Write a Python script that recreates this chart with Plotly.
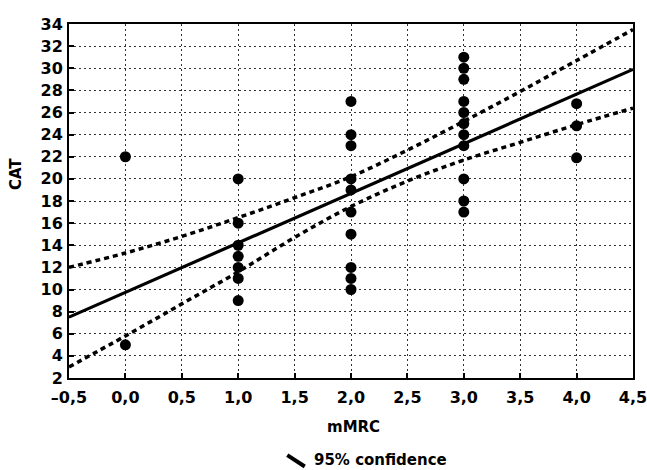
import plotly.graph_objects as go

# ---- data ----
x_groups = [0, 1, 2, 3, 4]
cat_by_group = [
    [22, 5],
    [20, 16, 14, 13, 12, 11, 9],
    [27, 24, 23, 20, 19, 17, 15, 12, 11, 10],
    [31, 30, 29, 27, 26, 25, 24, 23, 20, 18, 17],
    [26.8, 24.8, 21.9],
]
fit_x = [-0.5, 4.5]
fit_y = [7.5, 29.9]
ci_x = [-0.5, 0.0, 0.5, 1.0, 1.5, 2.0, 2.5, 3.0, 3.5, 4.0, 4.5]
ci_upper = [12.0, 13.3, 14.8, 16.5, 18.3, 20.2, 22.6, 25.2, 27.9, 30.7, 33.5]
ci_lower = [3.0, 5.8, 8.7, 11.6, 14.7, 17.5, 19.8, 21.7, 23.3, 24.9, 26.4]
x_ticks = [-0.5, 0.0, 0.5, 1.0, 1.5, 2.0, 2.5, 3.0, 3.5, 4.0, 4.5]
x_ticklabels = ["\u20130,5", "0,0", "0,5", "1,0", "1,5", "2,0", "2,5", "3,0", "3,5", "4,0", "4,5"]
y_ticks = list(range(2, 35, 2))

pts_x = [g for g, vals in zip(x_groups, cat_by_group) for _ in vals]
pts_y = [v for vals in cat_by_group for v in vals]

FONT = "DejaVu Sans"
FS = 16
fig = go.Figure()

for ys in (ci_upper, ci_lower):
    fig.add_trace(go.Scatter(
        x=ci_x, y=ys, mode="lines", line_shape="spline",
        line=dict(color="black", width=3.5, dash="5px,4px"),
        showlegend=False, hoverinfo="skip"))

fig.add_trace(go.Scatter(
    x=fit_x, y=fit_y, mode="lines",
    line=dict(color="black", width=3.2), showlegend=False))

fig.add_trace(go.Scatter(
    x=pts_x, y=pts_y, mode="markers",
    marker=dict(color="black", size=11), showlegend=False, cliponaxis=False))

axis_common = dict(
    showline=True, linecolor="black", linewidth=2, mirror=True,
    showgrid=True, gridcolor="#333", gridwidth=1, griddash="2px,3px",
    ticks="inside", ticklen=5, tickcolor="black", tickwidth=1.5,
    zeroline=False, ticklabeloverflow="allow", automargin=False,
    tickfont=dict(family=FONT, size=FS, color="black", weight="bold"),
)

fig.update_xaxes(range=[-0.5, 4.5], tickvals=x_ticks, ticktext=x_ticklabels,
                 ticklabelstandoff=4, **axis_common)
fig.update_yaxes(range=[2, 34], tickvals=y_ticks, ticklabelstandoff=1, **axis_common)

fig.add_annotation(text="CAT", xref="paper", yref="paper", x=-0.094, y=0.576,
                   xanchor="center", yanchor="middle",
                   textangle=-90, showarrow=False,
                   font=dict(family=FONT, size=FS - 1, color="black", weight="bold"))
fig.add_annotation(text="mMRC", xref="paper", yref="paper", x=0.505, y=-0.138,
                   showarrow=False, yanchor="middle",
                   font=dict(family=FONT, size=FS - 1, color="black", weight="bold"))
fig.add_annotation(text="95% confidence", xref="paper", yref="paper", x=0.431, y=-0.232,
                   xanchor="left", yanchor="middle", showarrow=False,
                   font=dict(family=FONT, size=FS - 1, color="black", weight="bold"))
fig.add_shape(type="line", xref="paper", yref="paper",
              x0=0.387, y0=-0.218, x1=0.418, y1=-0.250,
              line=dict(color="black", width=4))

fig.update_layout(
    width=647, height=470,
    margin=dict(l=69, r=14, t=24, b=92, autoexpand=False),
    paper_bgcolor="white", plot_bgcolor="white",
    showlegend=False,
)

fig.write_html("out.html", config={"displayModeBar": False},
               post_script="document.body.style.margin='0';document.body.style.padding='0';")
